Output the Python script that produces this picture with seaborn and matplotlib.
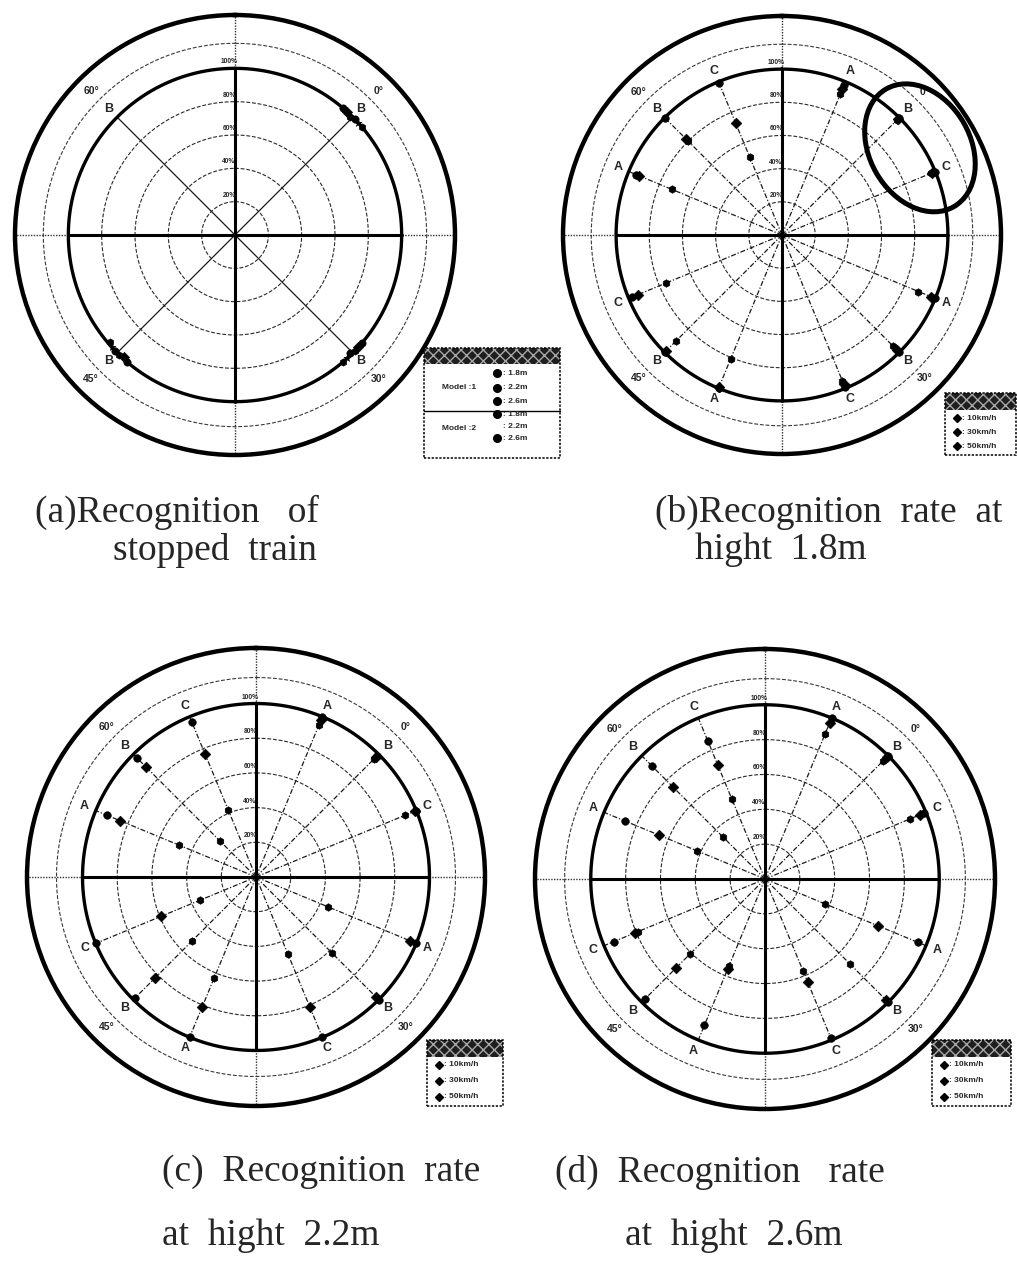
import numpy as np
import matplotlib
matplotlib.use("Agg")
import matplotlib.pyplot as plt
import seaborn as sns
from matplotlib.patches import Ellipse, Rectangle
from matplotlib.lines import Line2D

sns.set_style("white")
plt.rcParams["font.family"] = ["Liberation Sans", "DejaVu Sans"]

# ---- layout helpers (figure is 1017 x 1276 px) ----
W, H = 1017, 1276
RMAX = 132          # outer border of every polar panel (%)
R_OUTER_DASH = 115  # dashed guide circle outside the 100 % ring


def fx(x):
    return x / W


def fy(y):
    return 1 - y / H


# ---- common angular layout ----
quadrant_names = ["0°", "30°", "45°", "60°"]
quadrant_dirs = [45, 135, 225, 315]
spoke_names = ["A", "B", "C"] * 4
spoke_dirs = [22.5, 45, 67.5, 112.5, 135, 157.5, 202.5, 225, 247.5, 292.5, 315, 337.5]
ring_levels = [20, 40, 60, 80, 100]
ring_labels = ["20%", "40%", "60%", "80%", "100%"]

# ---- (a) stopped train: recognition rate (%) per angle (0°, 30°, 45°, 60°) ----
stopped_dirs = [45, 135, 225, 315]
stopped_names = ["B", "B", "B", "B"]
model1_18 = [100, 100, 100, np.nan]
model1_22 = [100, 100, 99, np.nan]
model1_26 = [99, 100, 100, np.nan]
model2_18 = [100, 99, 100, np.nan]
model2_22 = [100, 100, 100, np.nan]
model2_26 = [100, 100, 99, np.nan]
model_heights = ["1.8m", "2.2m", "2.6m"]

# ---- (b)-(d) moving train: recognition rate (%) per spoke ----
speeds = ["10km/h", "30km/h", "50km/h"]
h18_10 = [98, 100, 100, 100, 100, 99, 100, 100, 98, 95, 100, 99]
h18_30 = [95, 99, 98, 97, 98, 97, 99, 99, 94, 93, 82, 73]
h18_50 = [92, 98, 97, 89, 95, 95, 81, 90, 76, 72, 80, 51]

h22_10 = [100, 99, 100, 100, 100, 100, 100, 99, 100, 93, 97, 97]
h22_30 = [98, 98, 99, 96, 98, 81, 81, 82, 59, 85, 90, 77]
h22_50 = [95, 96, 93, 45, 62, 48, 63, 52, 35, 48, 29, 42]

h26_10 = [100, 100, 99, 95, 100, 99, 91, 97, 94, 87, 92, 86]
h26_30 = [97, 99, 96, 70, 98, 64, 56, 72, 81, 66, 75, 71]
h26_50 = [90, 96, 90, 37, 69, 57, 54, 61, 79, 42, 34, 50]

speed_markers = ["o", "D", "h"]

fig = plt.figure(figsize=(W / 100, H / 100), dpi=100)
fig.patch.set_facecolor("white")


def polar_panel(cx, cy, R):
    ax = fig.add_axes([fx(cx - R), fy(cy + R), 2 * R / W, 2 * R / H],
                      projection="polar")
    ax.set_theta_zero_location("N")
    ax.set_theta_direction(-1)
    ax.set_facecolor("white")
    return ax


def draw_frame(ax, spokes, names, spoke_ls):
    th = np.linspace(0, 2 * np.pi, 721)
    for r in ring_levels[:-1]:
        ax.plot(th, np.full_like(th, r), color="#2a2a2a", lw=0.8,
                ls=(0, (3.5, 1.6)), zorder=1)
    ax.plot(th, np.full_like(th, 100), color="black", lw=2.4, zorder=2)
    ax.plot(th, np.full_like(th, R_OUTER_DASH), color="#3a3a3a", lw=0.8,
            ls=(0, (3.5, 1.6)), zorder=1)
    # main cross: bold inside the 100 % ring, dotted beyond it
    for a in [0, 90, 180, 270]:
        t = np.deg2rad(a)
        ax.plot([t, t], [0, 100], color="black", lw=2.2, zorder=2)
        ax.plot([t, t], [100, RMAX], color="#333333", lw=1.0, ls=(0, (1, 1)),
                zorder=1)
    for a, nm in zip(spokes, names):
        t = np.deg2rad(a)
        ax.plot([t, t], [0, 100], color="#1a1a1a", lw=0.9, ls=spoke_ls, zorder=1)
        ax.text(t, 107, nm, ha="center", va="center", fontsize=9,
                fontweight="bold", zorder=6)
    for r, lab in zip(ring_levels, ring_labels):
        ax.annotate(lab, xy=(0, r), xytext=(-6, 3), textcoords="offset pixels",
                    ha="center", va="bottom", fontsize=4.8, fontweight="bold",
                    zorder=6)
    for a, nm in zip(quadrant_dirs, quadrant_names):
        ax.text(np.deg2rad(a), 122, nm, ha="center", va="center", fontsize=7.5,
                fontweight="bold", zorder=6)


def finish(ax):
    ax.set_xlabel("")
    ax.set_ylabel("")
    ax.set_rlim(0, RMAX)
    ax.set_xticks([])
    ax.set_yticks([])
    ax.grid(False)
    ax.spines["polar"].set_linewidth(3.2)
    ax.spines["polar"].set_color("black")


# ---------------- (a) ----------------
ax_a = polar_panel(235, 235, 220)
draw_frame(ax_a, stopped_dirs, stopped_names, "-")
model_series = [model1_18, model1_22, model1_26, model2_18, model2_22, model2_26]
model_markers = ["o", "D", "h", "o", "*", "h"]
dodge = [-4.5, -2.7, -0.9, 0.9, 2.7, 4.5]
for vals, mk, dg in zip(model_series, model_markers, dodge):
    sns.scatterplot(x=np.deg2rad(np.array(stopped_dirs) + dg), y=vals, ax=ax_a,
                    color="black", marker=mk, s=28, edgecolor="black",
                    linewidth=0.4, legend=False, zorder=5)
finish(ax_a)

# ---------------- (b)-(d) ----------------
panels = [
    ((782, 235, 219), [h18_10, h18_30, h18_50]),
    ((256, 877, 229), [h22_10, h22_30, h22_50]),
    ((765, 879, 230), [h26_10, h26_30, h26_50]),
]
speed_axes = []
for (cx, cy, R), series in panels:
    ax = polar_panel(cx, cy, R)
    draw_frame(ax, spoke_dirs, spoke_names, (0, (4, 1.5, 1, 1.5)))
    for vals, mk in zip(series, speed_markers):
        sns.scatterplot(x=np.deg2rad(spoke_dirs), y=vals, ax=ax, color="black",
                        marker=mk, s=30, edgecolor="black", linewidth=0.4,
                        legend=False, zorder=5)
    finish(ax)
    speed_axes.append(ax)

# highlight ring around B/C of the 0° group in (b)
speed_axes[0].add_patch(Ellipse((0.815, 0.699), 0.31, 0.23, angle=-60,
                                transform=speed_axes[0].transAxes, fill=False,
                                lw=3.6, color="black", clip_on=False, zorder=7))


# ---------------- legend tables ----------------
def box(x0, y0, x1, y1, ls=(0, (1.5, 1))):
    fig.add_artist(Rectangle((fx(x0), fy(y1)), fx(x1) - fx(x0), fy(y0) - fy(y1),
                             transform=fig.transFigure, fill=False, lw=1.1,
                             ls=ls, edgecolor="black", zorder=8))


def header(x0, y0, x1, y1):
    fig.add_artist(Rectangle((fx(x0), fy(y1)), fx(x1) - fx(x0), fy(y0) - fy(y1),
                             transform=fig.transFigure, facecolor="#1e1e1e",
                             edgecolor="#a8a8a8", hatch="xxx", lw=0, zorder=8))


def legend_row(xm, xt, y, marker, text, size=5.5):
    if marker:
        fig.add_artist(Line2D([fx(xm)], [fy(y)], marker=marker, color="black",
                              markersize=size, transform=fig.transFigure,
                              zorder=9))
    fig.text(fx(xt), fy(y), ": " + text, ha="left", va="center", fontsize=6,
             fontweight="bold", zorder=9)


# (a) model legend
header(424, 348, 560, 364)
box(424, 348, 560, 458)
fig.add_artist(Line2D([fx(424), fx(560)], [fy(411), fy(411)], color="black",
                      lw=1.0, transform=fig.transFigure, zorder=8))
fig.text(fx(459), fy(388), "Model :1", ha="center", va="center", fontsize=6,
         fontweight="bold")
fig.text(fx(459), fy(428), "Model :2", ha="center", va="center", fontsize=6,
         fontweight="bold")
for y, mk, txt in zip([373, 388, 401], ["o", "o", "o"], model_heights):
    legend_row(497, 503, y, mk, txt)
for y, mk, txt in zip([414, 426, 438], ["o", None, "o"], model_heights):
    legend_row(497, 503, y, mk, txt)

# speed legends of (b), (c), (d)
for (x0, y0, x1, y1) in [(945, 393, 1016, 455), (427, 1040, 503, 1106),
                         (932, 1040, 1011, 1106)]:
    header(x0, y0, x1, y0 + 17)
    box(x0, y0, x1, y1)
    rows = np.linspace(y0 + 25, y1 - 9, 3)
    for y, mk, txt in zip(rows, ["D", "D", "D"], speeds):
        legend_row(x0 + 12, x0 + 17, y, mk, txt, size=4.5)

# ---------------- captions ----------------
cap = dict(fontsize=27, family="Liberation Serif", va="center", ha="left")
fig.text(fx(35), fy(512), "(a)Recognition   of", **cap)
fig.text(fx(113), fy(550), "stopped  train", **cap)
fig.text(fx(655), fy(512), "(b)Recognition  rate  at", **cap)
fig.text(fx(695), fy(550), "hight  1.8m", **cap)
fig.text(fx(162), fy(1172), "(c)  Recognition  rate", **cap)
fig.text(fx(162), fy(1236), "at  hight  2.2m", **cap)
fig.text(fx(555), fy(1172), "(d)  Recognition   rate", **cap)
fig.text(fx(625), fy(1236), "at  hight  2.6m", **cap)

fig.savefig("out.png", dpi=100, facecolor="white")
